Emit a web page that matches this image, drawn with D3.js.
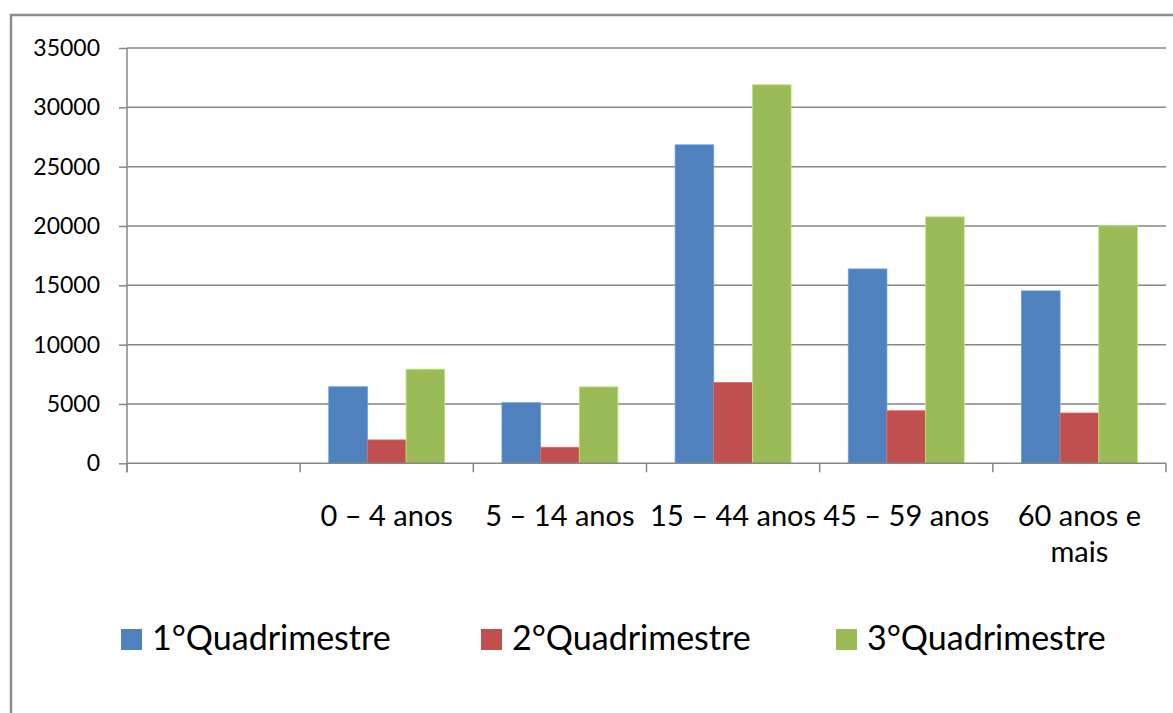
<!DOCTYPE html>
<html>
<head>
<meta charset="utf-8">
<script src="https://cdn.jsdelivr.net/npm/d3@7"></script>
<style>
  body { margin: 0; background: #fff; }
  svg { display: block; font-family: Lato, "Open Sans", sans-serif; }
  .grid line { stroke: #868686; stroke-width: 1.5; }
  .axis path, .axis line { stroke: #868686; stroke-width: 1.5; }
  .axis text { fill: #000; }
</style>
</head>
<body>
<svg width="1173" height="713"></svg>
<script>
var categories = ["", "0 – 4 anos", "5 – 14 anos", "15 – 44 anos", "45 – 59 anos", "60 anos e mais"];
var seriesNames = ["1°Quadrimestre", "2°Quadrimestre", "3°Quadrimestre"];
var q1 = [null, 6450, 5110, 26840, 16380, 14530];
var q2 = [null, 1970, 1350, 6800, 4430, 4240];
var q3 = [null, 7930, 6440, 31900, 20770, 20010];
var yTicks = [0, 5000, 10000, 15000, 20000, 25000, 30000, 35000];
var colors = ["#4f81bd", "#c0504d", "#9bbb59"];

var svg = d3.select("svg"),
    width = +svg.attr("width"),
    height = +svg.attr("height");

var plotLeft = 127, plotRight = 1166, plotTop = 48, plotBottom = 463.3;

// outer chart frame (runs off the page right and bottom)
svg.append("rect")
    .attr("x", 11).attr("y", 15)
    .attr("width", 1300).attr("height", 800)
    .attr("fill", "none")
    .attr("stroke", "#8c8c8c")
    .attr("stroke-width", 2.5);

var x = d3.scaleBand()
    .domain(categories)
    .range([plotLeft, plotRight])
    .padding(0);

var xs = d3.scaleBand()
    .domain(seriesNames)
    .range([0, x.bandwidth()])
    .paddingInner(0)
    .paddingOuter(0.74);

var y = d3.scaleLinear()
    .domain([0, 35000])
    .range([plotBottom, plotTop]);

// gridlines
svg.append("g").attr("class", "grid")
    .selectAll("line")
    .data(yTicks.filter(d => d > 0))
    .enter().append("line")
    .attr("x1", plotLeft).attr("x2", plotRight)
    .attr("y1", d => y(d)).attr("y2", d => y(d));

// y axis
var yAxis = svg.append("g").attr("class", "axis")
    .attr("transform", "translate(" + plotLeft + ",0)")
    .call(d3.axisLeft(y).tickValues(yTicks).tickSize(8).tickSizeOuter(0).tickPadding(19).tickFormat(d3.format("d")));
yAxis.attr("font-family", null).attr("font-size", null);
yAxis.select(".domain").remove();
yAxis.selectAll("text").style("font-size", "23px");

// bars
var data = [q1, q2, q3];
data.forEach(function(vals, si) {
    svg.append("g")
        .selectAll("rect")
        .data(categories.map((c, i) => ({ cat: c, v: vals[i] })).filter(d => d.v != null))
        .enter().append("rect")
        .attr("x", d => x(d.cat) + xs(seriesNames[si]))
        .attr("y", d => y(d.v))
        .attr("width", xs.bandwidth())
        .attr("height", d => plotBottom - y(d.v))
        .attr("fill", colors[si])
        .attr("stroke", d3.color(colors[si]).brighter(0.6))
        .attr("stroke-width", 0.8);
});

// x axis: baseline + category boundary ticks
var xAxis = svg.append("g").attr("class", "axis");
xAxis.append("line")
    .attr("x1", plotLeft).attr("x2", plotRight)
    .attr("y1", plotBottom).attr("y2", plotBottom);
xAxis.selectAll(".bound")
    .data(categories.map(c => x(c)).concat([plotRight]))
    .enter().append("line")
    .attr("x1", d => d).attr("x2", d => d)
    .attr("y1", plotBottom).attr("y2", plotBottom + 9);
xAxis.append("line")
    .attr("x1", plotLeft).attr("x2", plotLeft)
    .attr("y1", plotTop).attr("y2", plotBottom + 9);

// category labels, wrapped like Excel
var labels = svg.append("g")
    .selectAll("text")
    .data(categories)
    .enter().append("text")
    .attr("x", d => x(d) + x.bandwidth() / 2)
    .attr("y", 526)
    .attr("text-anchor", "middle")
    .style("font-size", "29px");

labels.each(function(d) {
    var t = d3.select(this), words = d.split(" "), line = [], lines = [];
    var maxW = x.bandwidth() - 4;
    var tmp = t.append("tspan");
    words.forEach(function(w) {
        line.push(w);
        tmp.text(line.join(" "));
        if (tmp.node().getComputedTextLength() > maxW && line.length > 1) {
            line.pop();
            lines.push(line.join(" "));
            line = [w];
        }
    });
    lines.push(line.join(" "));
    tmp.remove();
    lines.forEach(function(l, i) {
        t.append("tspan")
            .attr("x", x(d) + x.bandwidth() / 2)
            .attr("dy", i ? 36 : 0)
            .text(l);
    });
});

// legend
var legendX = [121, 481, 836];
var legend = svg.append("g")
    .selectAll("g")
    .data(seriesNames)
    .enter().append("g")
    .attr("transform", (d, i) => "translate(" + legendX[i] + ",629)");

legend.append("rect")
    .attr("width", 21).attr("height", 21)
    .attr("fill", (d, i) => colors[i]);

legend.append("text")
    .attr("x", 31).attr("y", 21)
    .style("font-size", "34px")
    .text(d => d);
</script>
</body>
</html>
